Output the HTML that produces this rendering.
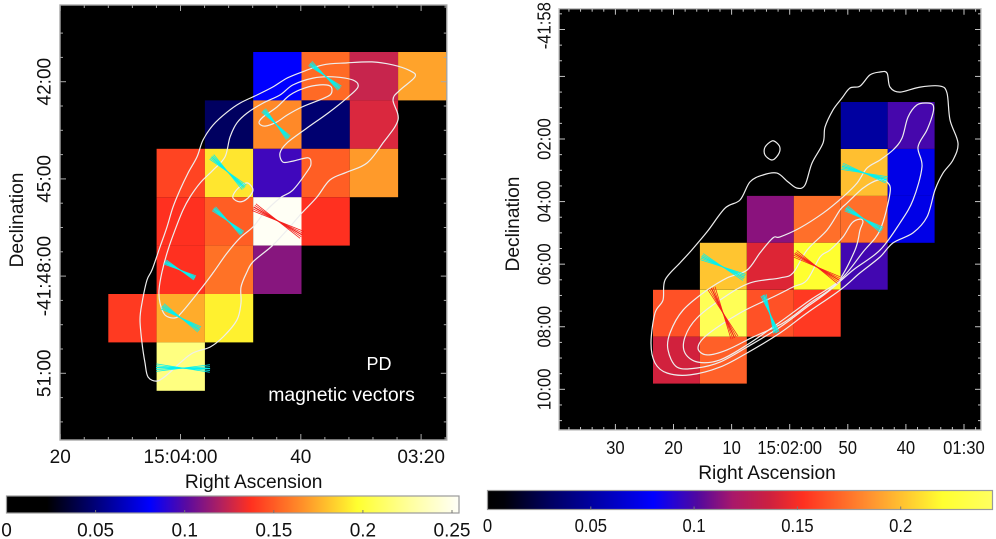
<!DOCTYPE html>
<html lang="en">
<head>
<meta charset="utf-8">
<title>PD maps with magnetic vectors</title>
<style>
  html, body { margin: 0; padding: 0; background: #fff; }
  #figure { display: block; width: 996px; height: 539px; }
  text { font-family: "Liberation Sans", sans-serif; fill: #111; }
</style>
</head>
<body>
<svg id="figure" xmlns="http://www.w3.org/2000/svg" width="996" height="539" viewBox="0 0 996 539">
  <defs id="defs"></defs>
  <g id="left-panel"></g>
  <g id="right-panel"></g>
</svg>
<script>
/* ---------- LEFT PANEL DATA ---------- */
/* Polarised degree per pixel (rows run north to south, columns run east to west) */
const leftPD = [
  [null, null, null, 0.0805, 0.1545, 0.125, 0.1715],
  [null, null, 0.0445, 0.164, 0.048, 0.129, null],
  [null, 0.143, 0.19, 0.095, 0.151, 0.169, null],
  [null, 0.137, 0.151, 0.253, 0.137, null, null],
  [null, 0.137, 0.157, 0.111, null, null, null],
  [0.14, 0.174, 0.193, null, null, null, null],
  [null, 0.2185, null, null, null, null, null]
];
const leftRaTicks = [20, 0, -20, -40];
const leftRaLabels = ['20', '15:04:00', '40', '03:20'];
const leftDecTicks = [42, 45, 48, 51];
const leftDecLabels = ['42:00', '45:00', '-41:48:00', '51:00'];
const leftBarTicks = [0, 0.05, 0.1, 0.15, 0.2, 0.25];
const leftBarLabels = ['0', '0.05', '0.1', '0.15', '0.2', '0.25'];
const leftCmapValues = [0, 0.0227, 0.0805, 0.101, 0.12, 0.137, 0.169, 0.197, 0.227, 0.2539];
const leftCmapColors = ['#000000', '#000000', '#0000ff', '#5a0aa0', '#b02060', '#ff3020', '#ff9a2a', '#ffff30', '#ffffa0', '#fffff8'];
const leftVecRa = [-24.02, -15.88, -7.9, -7.9, -16.21, 0.08, -0.08, -0.42];
const leftVecDec = [41.82, 43.31, 44.79, 46.3, 46.3, 47.81, 49.29, 50.84];
const leftVecAngle = [40, 48, 43, 41, 30, 28, 32, 1];
const leftVecLength = [1.2, 1.16, 1.39, 1.17, 1.73, 1.05, 1.36, 1.67];
const leftVecSignificant = [1, 1, 1, 1, 0, 1, 1, 1];
const leftContourA = [[-38.99,41.85],[-38.15,41.66],[-35.33,41.48],[-31.84,41.39],[-27.68,41.42],[-23.69,41.48],[-20.2,41.7],[-17.71,41.89],[-15.38,42.16],[-12.72,42.41],[-9.89,42.66],[-7.73,42.94],[-5.4,43.34],[-3.74,43.8],[-2.74,44.32],[-1.25,44.82],[0.08,45.34],[1.25,45.87],[2.24,46.48],[3.41,47.1],[4.74,47.81],[5.57,48.12],[6.4,48.83],[6.73,49.35],[6.4,50.06],[5.9,50.68],[5.4,51.11],[3.91,51.24],[2.24,51.05],[0.08,50.68],[-2.08,50.37],[-4.9,50.19],[-7.07,49.88],[-9.39,49.35],[-10.06,48.83],[-10.06,48.34],[-11.06,47.87],[-12.05,47.56],[-15.21,47.07],[-17.71,46.58],[-20.2,46.05],[-22.69,45.56],[-24.85,45.03],[-27.68,44.79],[-31,44.51],[-33.67,43.89],[-36.16,43.18],[-35.33,42.56],[-36.49,42.26]];
const leftContourB = [[-29.51,42.16],[-28.68,41.95],[-25.35,41.85],[-22.03,41.89],[-18.7,42.1],[-16.54,42.41],[-13.72,42.66],[-11.06,42.97],[-9.39,43.27],[-8.23,43.71],[-7.4,44.32],[-5.4,44.73],[-3.24,45.13],[-1.58,45.56],[-0.42,45.96],[0.91,46.58],[2.08,47.19],[3.08,47.87],[3.57,48.43],[3.41,48.83],[2.58,49.2],[0.91,49.29],[-0.25,49.11],[-3.24,48.43],[-5.4,47.9],[-7.73,47.29],[-9.89,46.82],[-12.05,46.48],[-14.05,46.02],[-16.54,45.59],[-18.7,45.34],[-21.2,44.73],[-21.7,44.51],[-21.2,44.35],[-18.7,44.45],[-17.04,44.48],[-16.54,44.2],[-17.71,43.89],[-21.03,43.43],[-24.52,42.97],[-27.68,42.5]];
const leftContourC = [[-25.19,42.26],[-24.85,42.41],[-23.19,42.56],[-20.2,42.78],[-17.71,43.03],[-16.04,43.24],[-14.05,43.37],[-13.05,43.27],[-13.72,43.09],[-16.04,42.78],[-18.2,42.41],[-20.7,42.19],[-23.19,42.1],[-24.85,42.13]];
const leftContourD = [[-12.05,45.34],[-11.22,45.13],[-10.22,45.19],[-9.06,45.4],[-8.73,45.59],[-9.89,45.71],[-11.22,45.59]];

/* ---------- RIGHT PANEL DATA ---------- */
const rightPD = [
  [null, null, null, null, 0.0503, 0.099],
  [null, null, null, null, 0.2, 0.073],
  [null, null, 0.113, 0.174, 0.174, 0.073],
  [null, 0.202, 0.142, 0.2207, 0.098, null],
  [0.164, 0.24, 0.164, 0.156, null, null],
  [0.138, 0.169, null, null, null, null]
];
const rightRaTicks = [30, 20, 10, 0, -10, -20, -30];
const rightRaLabels = ['30', '20', '10', '15:02:00', '50', '40', '01:30'];
const rightDecTicks = [-1.62, 2, 4, 6, 8, 10];
const rightDecLabels = ['-41:58', '02:00', '04:00', '06:00', '08:00', '10:00'];
const rightDecMajor = [-1.5, 0, 2, 4, 6, 8, 10];
const rightBarTicks = [0, 0.05, 0.1, 0.15, 0.2];
const rightBarLabels = ['0', '0.05', '0.1', '0.15', '0.2'];
const rightCmapValues = [0, 0.008, 0.03, 0.0805, 0.1016, 0.119, 0.1365, 0.153, 0.185, 0.2207, 0.2449];
const rightCmapColors = ['#000000', '#000008', '#000060', '#0000ff', '#5008a0', '#a8186a', '#cc2040', '#ff3020', '#ff9030', '#ffff30', '#ffff60'];
const rightVecRa = [-12.87, -12.79, 11.48, -4.7, 11.48, 3.39];
const rightVecDec = [3.09, 4.56, 6.09, 6.09, 7.56, 7.59];
const rightVecAngle = [17, 31, 26, 31, 65, 71];
const rightVecLength = [1.5, 1.35, 1.53, 1.67, 1.76, 1.28];
const rightVecSignificant = [1, 1, 1, 0, 0, 1];
const rightContourA = [[-9,0.69],[-10.38,0.37],[-12.1,0.31],[-13.82,-0.05],[-15.54,-0.14],[-16.75,-0.11],[-17.26,0.34],[-18.98,0.5],[-22.43,0.34],[-25.87,0.31],[-27.07,0.53],[-27.59,1.39],[-28.97,2.13],[-28.11,2.67],[-26.39,3.09],[-25.01,3.63],[-23.63,4.49],[-21.22,5],[-17.78,5.32],[-15.54,5.77],[-12.1,6.28],[-8.66,6.83],[-2.98,7.56],[1.67,8.2],[7.35,8.84],[12,9.29],[17.16,9.54],[21.12,9.48],[23.18,9.16],[23.87,8.52],[23.18,7.56],[21.81,7.15],[21.46,6.51],[18.88,5.96],[17.16,5.61],[14.23,4.97],[11.14,4.21],[8.55,3.95],[6.83,3.37],[4.6,3.15],[2.19,3.09],[0.29,3.37],[-1.26,3.57],[-2.63,3.47],[-3.84,2.77],[-5.73,2.13],[-6.08,1.62],[-7.45,1.07]];
const rightContourB = [[-24.66,0.91],[-23.63,0.85],[-21.91,0.91],[-20.36,1.3],[-19.33,1.97],[-17.78,2.35],[-15.54,2.67],[-13.3,2.93],[-11.58,3.41],[-9.17,3.85],[-5.73,4.37],[-1.77,4.84],[1.67,5.13],[2.87,5.16],[5.11,5.64],[7.35,6.19],[10.79,6.44],[14.23,6.83],[18.37,7.47],[20.6,8.2],[20.95,8.74],[19.4,9.29],[15.96,9.32],[12,9.13],[7.35,8.65],[1.67,8.01],[-2.98,7.37],[-6.94,6.83],[-10.9,6.19],[-15.54,5.55],[-18.98,4.68],[-21.22,3.95],[-22.77,2.89],[-22.08,2.26],[-23.63,1.71],[-24.66,1.17]];
const rightContourC = [[-8.66,4.27],[-6.42,4.91],[-2.98,5.55],[-0.57,6.28],[1.67,6.44],[6.83,6.6],[11.48,7.08],[15.96,7.72],[18.02,8.33],[18.02,8.84],[15.78,9.13],[12,9.06],[7.35,8.58],[1.67,7.85],[-3.49,7.15],[-8.66,6.51],[-12.62,5.61],[-15.54,4.91],[-17.26,3.73],[-16.75,3.37],[-15.2,3.31],[-12.62,3.57],[-9.86,4.05]];
const rightContourD = [[-12.1,4.56],[-10.72,4.68],[-9.17,5.13],[-6.94,5.55],[-5.22,5.77],[-2.98,6.51],[-0.57,6.73],[2.87,7.05],[8.55,7.56],[14.23,8.26],[15.78,8.68],[14.23,8.9],[10.79,8.74],[6.32,8.33],[1.15,7.88],[-3.49,7.24],[-8.14,6.6],[-11.24,5.55],[-12.1,4.91],[-12.62,4.65]];
const rightContourE = [[3.05,2.06],[4.25,2.26],[4.25,2.51],[3.05,2.67],[2.01,2.51],[1.67,2.29],[2.19,2.13]];

/* ---------- HELPERS ---------- */
const SVGNS = 'http://www.w3.org/2000/svg';
function mk(tag, attrs, parent, txt) {
  const e = document.createElementNS(SVGNS, tag);
  for (const k in attrs) e.setAttribute(k, attrs[k]);
  if (txt !== undefined) e.textContent = txt;
  parent.appendChild(e);
  return e;
}
function colorAt(v, vals, cols) {
  if (v <= vals[0]) return cols[0];
  for (let i = 1; i < vals.length; i++) {
    if (v <= vals[i]) {
      const t = (v - vals[i - 1]) / (vals[i] - vals[i - 1]);
      const a = parseInt(cols[i - 1].slice(1), 16), b = parseInt(cols[i].slice(1), 16);
      const ch = s => Math.round(((a >> s) & 255) + (((b >> s) & 255) - ((a >> s) & 255)) * t);
      return 'rgb(' + ch(16) + ',' + ch(8) + ',' + ch(0) + ')';
    }
  }
  return cols[cols.length - 1];
}
function smoothPath(pts) {
  const n = pts.length;
  let d = 'M' + pts[0][0].toFixed(1) + ' ' + pts[0][1].toFixed(1);
  for (let i = 0; i < n; i++) {
    const p0 = pts[(i - 1 + n) % n], p1 = pts[i], p2 = pts[(i + 1) % n], p3 = pts[(i + 2) % n];
    d += 'C' + (p1[0] + (p2[0] - p0[0]) / 6).toFixed(1) + ' ' + (p1[1] + (p2[1] - p0[1]) / 6).toFixed(1) +
         ' ' + (p2[0] - (p3[0] - p1[0]) / 6).toFixed(1) + ' ' + (p2[1] - (p3[1] - p1[1]) / 6).toFixed(1) +
         ' ' + p2[0].toFixed(1) + ' ' + p2[1].toFixed(1);
  }
  return d + 'Z';
}

function drawPanel(cfg) {
  const root = document.getElementById(cfg.id);
  const xOf = ra => cfg.x0 - cfg.pxPerSec * ra;
  const yOf = dec => cfg.y0 + cfg.pxPerMin * (dec - cfg.dec0);
  const P = cfg.plot;

  const bg = mk('rect', { x: P.l, y: P.t, width: P.r - P.l, height: P.b - P.t, fill: '#000' }, root);
  
  

  /* heat map */
  cfg.pd.forEach((row, r) => row.forEach((v, c) => {
    if (v === null) return;
    const x1 = xOf(cfg.cellRa0 - c * cfg.cellRa), x2 = xOf(cfg.cellRa0 - (c + 1) * cfg.cellRa);
    const y1 = yOf(cfg.cellDec0 + r * cfg.cellDec), y2 = yOf(cfg.cellDec0 + (r + 1) * cfg.cellDec);
    const cell = mk('rect', { x: x1.toFixed(1), y: y1.toFixed(1), width: (x2 - x1).toFixed(1), height: (y2 - y1).toFixed(1), fill: colorAt(v, cfg.cmapV, cfg.cmapC) }, root);
    
    
  }));

  /* contours */
  cfg.contours.forEach(list => {
    const path = mk('path', { d: smoothPath(list.map(p => [xOf(p[0]), yOf(p[1])])), fill: 'none', stroke: '#eeeeee', 'stroke-width': 1.2, 'stroke-linejoin': 'round' }, root);
    
    
  });

  /* magnetic vector bundles */
  cfg.vecRa.forEach((ra, i) => {
    const g = mk('g', {}, root);
    
    
    const cx = xOf(ra), cy = yOf(cfg.vecDec[i]);
    const half = cfg.vecLen[i] * cfg.pxPerMin / 2;
    const color = cfg.vecSig[i] ? '#00f2f2' : '#f4201c';
    [-8, -4, 0, 4, 8].forEach((off, k) => {
      const a = (cfg.vecAng[i] + off) * Math.PI / 180;
      const dx = Math.cos(a) * half, dy = Math.sin(a) * half;
      mk('line', { x1: (cx - dx).toFixed(1), y1: (cy - dy).toFixed(1), x2: (cx + dx).toFixed(1), y2: (cy + dy).toFixed(1), stroke: color, 'stroke-width': k === 2 ? 1.2 : 0.75 }, g);
    });
  });

  /* frame and ticks */
  const axes = mk('g', { stroke: cfg.frame, fill: 'none' }, root);
  
  
  mk('rect', { x: P.l, y: P.t, width: P.r - P.l, height: P.b - P.t, 'stroke-width': 1.4 }, axes);
  const raMajorSet = cfg.raTicks;
  for (let ra = cfg.raMax; ra >= cfg.raMin; ra -= cfg.raMinor) {
    const x = xOf(ra);
    if (x < P.l - 1 || x > P.r + 1) continue;
    const len = raMajorSet.some(t => Math.abs(t - ra) < 1e-6) ? 6 : 3;
    mk('line', { x1: x, y1: P.t, x2: x, y2: P.t + len, 'stroke-width': 1 }, axes);
    mk('line', { x1: x, y1: P.b, x2: x, y2: P.b - len, 'stroke-width': 1 }, axes);
  }
  for (let m = 0; ; m++) {
    const dec = cfg.decStart + m * cfg.decMinor;
    const y = yOf(dec);
    if (y > P.b) break;
    if (y < P.t) continue;
    const len = cfg.decMajor.some(t => Math.abs(t - dec) < 1e-6) ? 6 : 3;
    mk('line', { x1: P.l, y1: y, x2: P.l + len, y2: y, 'stroke-width': 1 }, axes);
    mk('line', { x1: P.r, y1: y, x2: P.r - len, y2: y, 'stroke-width': 1 }, axes);
  }

  /* tick labels */
  cfg.raTicks.forEach((ra, i) => {
    const t = mk('text', { transform: 'translate(' + (xOf(ra) + (cfg.raLabelShift[i] || 0)) + ',' + cfg.raLabelY + ') scale(' + cfg.labelScale + ',1)', 'text-anchor': 'middle', 'font-size': cfg.labelSize }, root, cfg.raLabels[i]);
    
    
  });
  cfg.decTicks.forEach((dec, i) => {
    const t = mk('text', { transform: 'translate(' + cfg.decLabelX + ',' + yOf(dec) + ') rotate(-90) scale(' + cfg.labelScale + ',1)', 'text-anchor': 'middle', 'font-size': cfg.labelSize }, root, cfg.decLabels[i]);
    
    
  });

  const xt = mk('text', { x: cfg.xTitle[0], y: cfg.xTitle[1], 'text-anchor': 'middle', 'font-size': 19.2 }, root, 'Right Ascension');
  
  
  const yt = mk('text', { transform: 'translate(' + cfg.yTitle[0] + ',' + cfg.yTitle[1] + ') rotate(-90)', 'text-anchor': 'middle', 'font-size': 19.2 }, root, 'Declination');
  
  

  /* colour bar */
  const B = cfg.bar;
  const grad = mk('linearGradient', { id: cfg.id + '-grad', x1: 0, x2: 1, y1: 0, y2: 0 }, document.getElementById('defs'));
  cfg.cmapV.forEach((v, i) => mk('stop', { offset: (v / cfg.barMax).toFixed(4), 'stop-color': cfg.cmapC[i] }, grad));
  const bar = mk('rect', { x: B.x, y: B.y, width: B.w, height: B.h, fill: 'url(#' + cfg.id + '-grad)', stroke: '#9a9a9a', 'stroke-width': 1.2 }, root);
  
  
  cfg.barTicks.forEach((v, i) => {
    const x = B.x + v * cfg.barPx;
    if (i > 0) {
      const tk = mk('line', { x1: x, y1: B.y + B.h, x2: x, y2: B.y + B.h - 3, stroke: '#777', 'stroke-width': 1 }, root);
      
      
    }
    const t = mk('text', { transform: 'translate(' + x + ',' + cfg.barLabelY + ') scale(' + cfg.barScale + ',1)', 'text-anchor': 'middle', 'font-size': cfg.barSize }, root, cfg.barLabels[i]);
    
    
  });
}

drawPanel({
  id: 'left-panel',
  plot: { l: 60, r: 446.8, t: 5, b: 440 },
  x0: 180.5, pxPerSec: 6.015, y0: 81.7, pxPerMin: 32.4, dec0: 42,
  pd: leftPD, cellRa0: 12, cellRa: 8.03, cellDec0: 41.083, cellDec: 1.494,
  cmapV: leftCmapValues, cmapC: leftCmapColors,
  contours: [leftContourA, leftContourB, leftContourC, leftContourD],
  vecRa: leftVecRa, vecDec: leftVecDec, vecAng: leftVecAngle, vecLen: leftVecLength, vecSig: leftVecSignificant,
  frame: '#a8a8a8',
  raTicks: leftRaTicks, raLabels: leftRaLabels, raMax: 20, raMin: -44, raMinor: 4, raLabelY: 463, raLabelShift: [],
  decTicks: leftDecTicks, decLabels: leftDecLabels, decMajor: leftDecTicks, decStart: 40.5, decMinor: 0.75, decLabelX: 50.5,
  labelSize: 19, labelScale: 1,
  xTitle: [253.7, 488], yTitle: [23, 220],
  bar: { x: 6.5, y: 496, w: 452.5, h: 17 }, barMax: 0.2539, barPx: 1782,
  barTicks: leftBarTicks, barLabels: leftBarLabels, barLabelY: 536.5, barSize: 19, barScale: 1
});

drawPanel({
  id: 'right-panel',
  plot: { l: 559, r: 981, t: 8.7, b: 430 },
  x0: 789.7, pxPerSec: 5.81, y0: 139, pxPerMin: 31.29, dec0: 2,
  pd: rightPD, cellRa0: 23.53, cellRa: 8.08, cellDec0: 0.818, cellDec: 1.5,
  cmapV: rightCmapValues, cmapC: rightCmapColors,
  contours: [rightContourA, rightContourB, rightContourC, rightContourD, rightContourE],
  vecRa: rightVecRa, vecDec: rightVecDec, vecAng: rightVecAngle, vecLen: rightVecLength, vecSig: rightVecSignificant,
  frame: '#c4c4c4',
  raTicks: rightRaTicks, raLabels: rightRaLabels, raMax: 40, raMin: -34, raMinor: 2, raLabelY: 454, raLabelShift: [],
  decTicks: rightDecTicks, decLabels: rightDecLabels, decMajor: rightDecMajor, decStart: -2, decMinor: 0.5, decLabelX: 550.6,
  labelSize: 18.5, labelScale: 0.9,
  xTitle: [767, 479], yTitle: [519, 224],
  bar: { x: 487.5, y: 490.5, w: 505, h: 19 }, barMax: 0.2449, barPx: 2066,
  barTicks: rightBarTicks, barLabels: rightBarLabels, barLabelY: 532, barSize: 18.5, barScale: 0.9
});

const leftRoot = document.getElementById('left-panel');
const pdLabel = mk('text', { x: 379, y: 370, 'text-anchor': 'middle', 'font-size': 18, style: 'fill:#fff' }, leftRoot, 'PD');


const vecLabel = mk('text', { x: 341.5, y: 401, 'text-anchor': 'middle', 'font-size': 19.4, style: 'fill:#fff' }, leftRoot, 'magnetic vectors');


</script>
</body>
</html>
